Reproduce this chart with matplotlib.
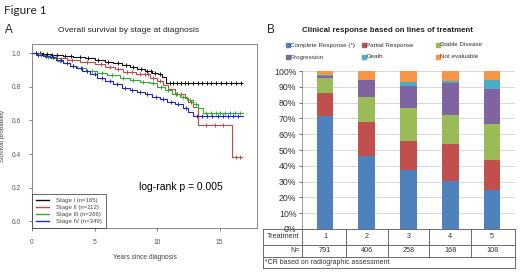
import numpy as np
import matplotlib
matplotlib.use('Agg')
import matplotlib.pyplot as plt
from matplotlib.patches import Rectangle
from matplotlib.lines import Line2D

plt.rcParams['font.family'] = ['Liberation Sans', 'DejaVu Sans']

# ---- panel A data: Kaplan-Meier steps (time in years, survival)
stage1_t = [0, 0.8, 1.5, 2.5, 3.3, 4.2, 5.0, 5.8, 6.5, 7.2, 7.8, 8.4, 9.0, 9.6, 10.1, 10.4, 10.7, 16.8]
stage1_s = [1.0, 0.994, 0.988, 0.982, 0.976, 0.97, 0.96, 0.95, 0.94, 0.93, 0.918, 0.905, 0.895, 0.885, 0.875, 0.86, 0.825, 0.825]
stage1_cens = [0.3, 0.6, 0.9, 1.2, 1.6, 2.0, 2.6, 3.1, 3.8, 4.5, 5.3, 6.1, 6.9, 7.5, 8.1, 8.7, 9.2, 9.5, 9.8, 10.2,
               11.0, 11.3, 11.6, 11.9, 12.2, 12.5, 12.9, 13.3, 13.6, 14.0, 14.3, 14.7, 15.1, 15.5, 15.9, 16.3, 16.7]

stage2_t = [0, 0.6, 1.1, 1.4, 2.8, 3.8, 5.0, 5.8, 6.6, 7.3, 8.3, 9.4, 10.0, 10.5, 10.9, 11.4, 12.2, 12.5, 12.9, 13.3, 16.0, 16.8]
stage2_s = [1.0, 0.99, 0.98, 0.97, 0.96, 0.95, 0.935, 0.92, 0.905, 0.89, 0.875, 0.855, 0.835, 0.81, 0.785, 0.76, 0.735, 0.71, 0.68, 0.57, 0.38, 0.38]
stage2_cens = [1.9, 3.2, 4.4, 5.5, 6.2, 6.9, 7.6, 8.0, 8.6, 9.0, 9.3, 9.7, 10.2, 11.6, 11.9, 12.7, 13.9, 14.6, 15.3, 16.3, 16.6]

stage3_t = [0, 0.5, 1.0, 1.6, 2.0, 2.5, 3.0, 3.6, 4.3, 5.2, 6.0, 7.0, 7.8, 8.6, 9.4, 10.0, 10.6, 11.2, 11.8, 12.4, 12.9, 13.3, 13.7, 16.9]
stage3_s = [1.0, 0.99, 0.98, 0.97, 0.955, 0.94, 0.925, 0.91, 0.895, 0.88, 0.87, 0.855, 0.84, 0.83, 0.82, 0.80, 0.78, 0.76, 0.74, 0.72, 0.70, 0.675, 0.645, 0.645]
stage3_cens = [0.7, 1.3, 2.2, 3.3, 4.0, 4.8, 5.6, 6.4, 7.3, 8.1, 8.9, 9.7, 10.3, 10.9, 11.5, 12.1, 12.6, 13.1,
               13.9, 14.3, 14.7, 15.0, 15.4, 15.8, 16.2, 16.6]

stage4_t = [0, 0.4, 0.9, 1.4, 1.9, 2.5, 3.0, 3.5, 4.0, 4.6, 5.2, 5.8, 6.5, 7.2, 7.8, 8.4, 9.0, 9.6, 10.2, 10.8, 11.4, 12.1, 12.5, 12.9, 16.9]
stage4_s = [1.0, 0.99, 0.985, 0.975, 0.96, 0.94, 0.925, 0.91, 0.895, 0.875, 0.855, 0.835, 0.815, 0.795, 0.78, 0.77, 0.755, 0.74, 0.725, 0.71, 0.695, 0.675, 0.65, 0.625, 0.625]
stage4_cens = [0.5, 1.1, 1.7, 2.3, 2.8, 3.3, 3.9, 4.4, 5.0, 5.6, 6.2, 6.8, 7.4, 8.0, 8.6, 9.2, 9.9, 10.5, 11.1, 11.7,
               12.3, 13.2, 13.6, 14.0, 14.4, 14.9, 15.3, 15.7, 16.1, 16.5]

stage_labels = ['Stage I (n=165)', 'Stage II (n=112)', 'Stage III (n=266)', 'Stage IV (n=349)']
stage_colors = ['#111111', '#C84848', '#2CB02C', '#2424C4']

# ---- panel B data: response share (%) per line of treatment
treatments = ['1', '2', '3', '4', '5']
n_patients = [791, 406, 258, 168, 108]
resp_cr = [71.5, 46.0, 37.5, 30.5, 25.0]
resp_pr = [14.8, 21.5, 18.5, 23.5, 18.5]
resp_sd = [9.1, 16.2, 20.8, 18.0, 23.0]
resp_prog = [1.6, 10.6, 13.7, 20.2, 21.9]
resp_death = [0.3, 0.3, 2.5, 1.5, 5.9]
resp_ne = [2.7, 5.4, 7.0, 6.3, 5.7]
resp_labels = ['Complete Response (*)', 'Partial Response', 'Stable Disease', 'Progression', 'Death', 'Not evaluable']
resp_colors = ['#4F81BD', '#C0504D', '#9BBB59', '#8064A2', '#4BACC6', '#F79646']

W, H = 520, 274
fig = plt.figure(figsize=(W / 100, H / 100), dpi=100)


def box(x0, y0, x1, y1):
    # pixel box (top-left origin) -> figure fraction rect
    return [x0 / W, 1 - y1 / H, (x1 - x0) / W, (y1 - y0) / H]


def fx(x):
    return x / W


def fy(y):
    return 1 - y / H


fig.text(fx(4), fy(10), 'Figure 1', fontsize=8.5, family=['Lato', 'DejaVu Sans'], va='center', color='#222222')
fig.text(fx(5), fy(30), 'A', fontsize=8.5, va='center', color='#222222')
fig.text(fx(267), fy(30), 'B', fontsize=8.5, va='center', color='#222222')

# ---------------- panel A
ax = fig.add_axes(box(32, 44, 257, 228))
for t, s, c, col in [(stage1_t, stage1_s, stage1_cens, stage_colors[0]),
                     (stage2_t, stage2_s, stage2_cens, stage_colors[1]),
                     (stage3_t, stage3_s, stage3_cens, stage_colors[2]),
                     (stage4_t, stage4_s, stage4_cens, stage_colors[3])]:
    t = np.array(t)
    s = np.array(s)
    ax.step(t, s, where='post', color=col, lw=0.8)
    idx = np.searchsorted(t, np.array(c), side='right') - 1
    ax.plot(c, s[idx], ls='none', marker='+', ms=3, mew=0.7, color=col)

ax.set_xlim(0, 18)
ax.set_ylim(-0.04, 1.055)
ax.set_xticks([0, 5, 10, 15])
ax.set_yticks([0.0, 0.2, 0.4, 0.6, 0.8, 1.0])
ax.set_yticklabels(['0.0', '0.2', '0.4', '0.6', '0.8', '1.0'])
ax.tick_params(labelsize=4.8, colors='#555555', length=2, width=0.5, pad=6)
for sp in ax.spines.values():
    sp.set_color('#777777')
    sp.set_linewidth(0.6)
ax.set_xlabel('Years since diagnosis', fontsize=4.8, color='#444444', labelpad=6)
ax.set_ylabel('Survival probability', fontsize=4.5, color='#444444', labelpad=5)
ax.text(0.66, 0.225, 'log-rank p = 0.005', transform=ax.transAxes, fontsize=7.5, ha='center', va='center')
handles = [Line2D([], [], color=c, lw=1) for c in stage_colors]
leg = ax.legend(handles, stage_labels, loc='lower left', fontsize=4.3, borderaxespad=0, fancybox=False,
                handlelength=2.2, labelspacing=0.3, borderpad=0.7, handletextpad=1.2)
leg.get_frame().set_edgecolor('#222222')
leg.get_frame().set_linewidth(0.6)
for txt in leg.get_texts():
    txt.set_color('#444444')
fig.text(fx(129), fy(30), 'Overall survival by stage at diagnosis', fontsize=6.1, ha='center', va='center',
         color='#222222')

# ---------------- panel B
bx = fig.add_axes(box(302, 71, 515, 229))
x = np.arange(1, 6)
bottom = np.zeros(5)
for vals, col in zip([resp_cr, resp_pr, resp_sd, resp_prog, resp_death, resp_ne], resp_colors):
    bx.bar(x, vals, bottom=bottom, width=0.4, color=col, zorder=3)
    bottom += np.array(vals)
bx.set_xlim(0.45, 5.55)
bx.set_ylim(0, 100)
bx.set_yticks(np.arange(0, 101, 10))
bx.set_yticklabels([f'{v}%' for v in range(0, 101, 10)])
bx.set_xticks([])
bx.tick_params(axis='y', labelsize=6.3, length=2, width=0.5, pad=2, colors='#333333')
bx.grid(axis='y', color='#C8C8C8', lw=0.5, zorder=0)
for k in ['top', 'right', 'bottom']:
    bx.spines[k].set_visible(False)
bx.spines['left'].set_color('#888888')
bx.spines['left'].set_linewidth(0.6)
fig.text(fx(388), fy(30), 'Clinical response based on lines of treatment', fontsize=5.7, fontweight='bold',
         ha='center', va='center', color='#222222')

# legend drawn by hand: 3 columns, 2 rows
leg_cols = [286, 362, 436]
leg_rows = [45, 57]
for k in range(6):
    cx = leg_cols[k % 3]
    cy = leg_rows[k // 3]
    fig.patches.append(Rectangle((fx(cx), fy(cy + 2)), 4 / W, 4 / H, transform=fig.transFigure,
                                 color=resp_colors[k]))
    fig.text(fx(cx + 4.5), fy(cy), resp_labels[k], fontsize=4.5, va='center', color='#333333')

# table under the bars (data x for columns, pixels for rows)
tx = fig.add_axes(box(263, 229, 515, 268))
tx.set_xlim(0.45 - 39 / 41.76, 5.55)
tx.set_ylim(268, 229)
tx.axis('off')
lc = '#555555'
x_left = tx.get_xlim()[0]
for yy in [229, 245, 256.5, 267.5]:
    tx.plot([x_left, 5.55], [yy, yy], color=lc, lw=0.6, clip_on=False)
tx.plot([x_left] * 2, [229, 267.5], color=lc, lw=0.6, clip_on=False)
tx.plot([5.55, 5.55], [229, 267.5], color=lc, lw=0.6, clip_on=False)
for sep in [0.45, 1.5, 2.5, 3.5, 4.5]:
    tx.plot([sep, sep], [229, 256.5], color=lc, lw=0.6, clip_on=False)
tx.text(0.40, 237, 'Treatment', fontsize=5.2, ha='right', va='center', color='#333333')
tx.text(0.40, 251, 'N=', fontsize=5.2, ha='right', va='center', color='#333333')
for xi, lab, n in zip(x, treatments, n_patients):
    tx.text(xi, 237, lab, fontsize=5.2, ha='center', va='center', color='#333333')
    tx.text(xi, 251, str(n), fontsize=5.2, ha='center', va='center', color='#333333')
tx.text(x_left + 0.05, 262, '*CR based on radiographic assessment', fontsize=5.0, ha='left',
        va='center', color='#333333')

fig.savefig('out.png', dpi=100)
